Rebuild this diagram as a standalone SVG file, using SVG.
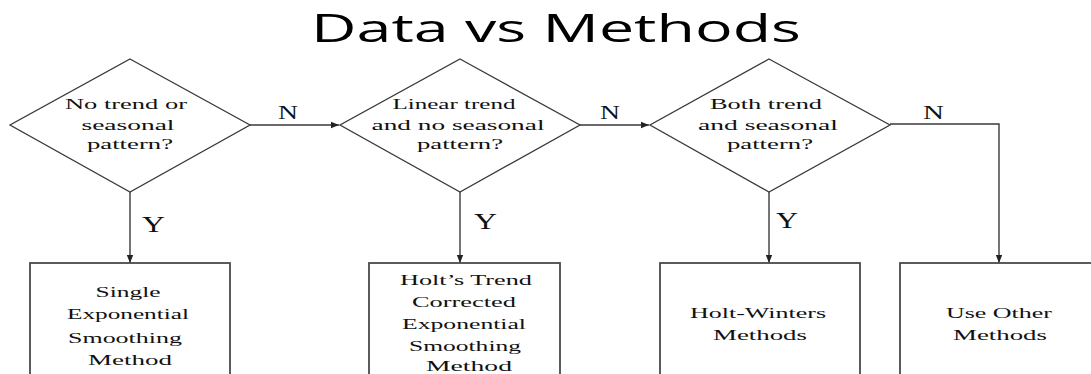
<svg xmlns="http://www.w3.org/2000/svg" width="1091" height="374" viewBox="0 0 1091 374">
  <style>
    .shape { fill: #ffffff; stroke: #3a3a3a; stroke-width: 1.3; }
    .box { fill: #ffffff; stroke: #4a4a4a; stroke-width: 1.8; }
    .wire { fill: none; stroke: #3a3a3a; stroke-width: 1.4; }
    .lbl { font-family: "Liberation Serif", "Times New Roman", serif; font-size: 15px; fill: #111; text-anchor: middle; }
    .yn { font-family: "Liberation Serif", "Times New Roman", serif; fill: #111; }
    .n { font-size: 19px; }
    .y { font-size: 24px; }
    .title { font-family: "Open Sans", "Liberation Sans", sans-serif; font-size: 39px; fill: #000; text-anchor: middle; }
  </style>
  <defs>
    <marker id="arrow" viewBox="0 0 10 10" refX="10" refY="5" markerWidth="8" markerHeight="8" markerUnits="userSpaceOnUse" orient="auto">
      <path d="M0,1 L10,5 L0,9 Z" fill="#222"/>
    </marker>
  </defs>

  <text class="title" x="556" y="42" textLength="490" lengthAdjust="spacingAndGlyphs">Data vs Methods</text>

  <g id="connectors">
    <line class="wire" x1="250" y1="125" x2="339" y2="125" marker-end="url(#arrow)"/>
    <line class="wire" x1="580" y1="125" x2="649" y2="125" marker-end="url(#arrow)"/>
    <polyline class="wire" points="890,124 999,124 999,263" marker-end="url(#arrow)"/>
    <line class="wire" x1="130" y1="192" x2="130" y2="263" marker-end="url(#arrow)"/>
    <line class="wire" x1="460" y1="192" x2="460" y2="263" marker-end="url(#arrow)"/>
    <line class="wire" x1="769" y1="192" x2="769" y2="263" marker-end="url(#arrow)"/>
    <text class="yn n" x="278" y="119" textLength="20" lengthAdjust="spacingAndGlyphs">N</text>
    <text class="yn n" x="600" y="119" textLength="20" lengthAdjust="spacingAndGlyphs">N</text>
    <text class="yn n" x="923" y="119" textLength="21" lengthAdjust="spacingAndGlyphs">N</text>
    <text class="yn y" x="142" y="232" textLength="23" lengthAdjust="spacingAndGlyphs">Y</text>
    <text class="yn y" x="474" y="229" textLength="23" lengthAdjust="spacingAndGlyphs">Y</text>
    <text class="yn y" x="776" y="228" textLength="22" lengthAdjust="spacingAndGlyphs">Y</text>
  </g>

  <g id="q-no-trend">
    <polygon class="shape" points="130,59 250,125 130,192 10,125"/>
    <text class="lbl" x="126" y="109" textLength="122" lengthAdjust="spacingAndGlyphs">No trend or</text>
    <text class="lbl" x="128" y="130" textLength="93" lengthAdjust="spacingAndGlyphs">seasonal</text>
    <text class="lbl" x="130" y="149" textLength="86" lengthAdjust="spacingAndGlyphs">pattern?</text>
  </g>

  <g id="q-linear-trend">
    <polygon class="shape" points="460,59 580,125 460,192 340,125"/>
    <text class="lbl" x="454" y="109" textLength="123" lengthAdjust="spacingAndGlyphs">Linear trend</text>
    <text class="lbl" x="458" y="130" textLength="173" lengthAdjust="spacingAndGlyphs">and no seasonal</text>
    <text class="lbl" x="460" y="149" textLength="86" lengthAdjust="spacingAndGlyphs">pattern?</text>
  </g>

  <g id="q-trend-seasonal">
    <polygon class="shape" points="769,59 890,125 769,192 650,125"/>
    <text class="lbl" x="766" y="109" textLength="112" lengthAdjust="spacingAndGlyphs">Both trend</text>
    <text class="lbl" x="768" y="130" textLength="140" lengthAdjust="spacingAndGlyphs">and seasonal</text>
    <text class="lbl" x="770" y="149" textLength="86" lengthAdjust="spacingAndGlyphs">pattern?</text>
  </g>

  <g id="m-single">
    <rect class="box" x="30" y="263" width="200" height="130"/>
    <text class="lbl" x="128" y="297" textLength="65" lengthAdjust="spacingAndGlyphs">Single</text>
    <text class="lbl" x="128" y="319" textLength="122" lengthAdjust="spacingAndGlyphs">Exponential</text>
    <text class="lbl" x="125" y="343" textLength="114" lengthAdjust="spacingAndGlyphs">Smoothing</text>
    <text class="lbl" x="130" y="365" textLength="84" lengthAdjust="spacingAndGlyphs">Method</text>
  </g>

  <g id="m-holt">
    <rect class="box" x="369" y="263" width="191" height="130"/>
    <text class="lbl" x="466" y="285" textLength="132" lengthAdjust="spacingAndGlyphs">Holt’s Trend</text>
    <text class="lbl" x="464" y="307" textLength="104" lengthAdjust="spacingAndGlyphs">Corrected</text>
    <text class="lbl" x="464" y="329" textLength="124" lengthAdjust="spacingAndGlyphs">Exponential</text>
    <text class="lbl" x="465" y="351" textLength="112" lengthAdjust="spacingAndGlyphs">Smoothing</text>
    <text class="lbl" x="469" y="371" textLength="86" lengthAdjust="spacingAndGlyphs">Method</text>
  </g>

  <g id="m-holt-winters">
    <rect class="box" x="660" y="263" width="200" height="130"/>
    <text class="lbl" x="758" y="318" textLength="136" lengthAdjust="spacingAndGlyphs">Holt-Winters</text>
    <text class="lbl" x="760" y="340" textLength="94" lengthAdjust="spacingAndGlyphs">Methods</text>
  </g>

  <g id="m-other">
    <rect class="box" x="900" y="263" width="200" height="130"/>
    <text class="lbl" x="999" y="318" textLength="106" lengthAdjust="spacingAndGlyphs">Use Other</text>
    <text class="lbl" x="1000" y="340" textLength="94" lengthAdjust="spacingAndGlyphs">Methods</text>
  </g>
</svg>
